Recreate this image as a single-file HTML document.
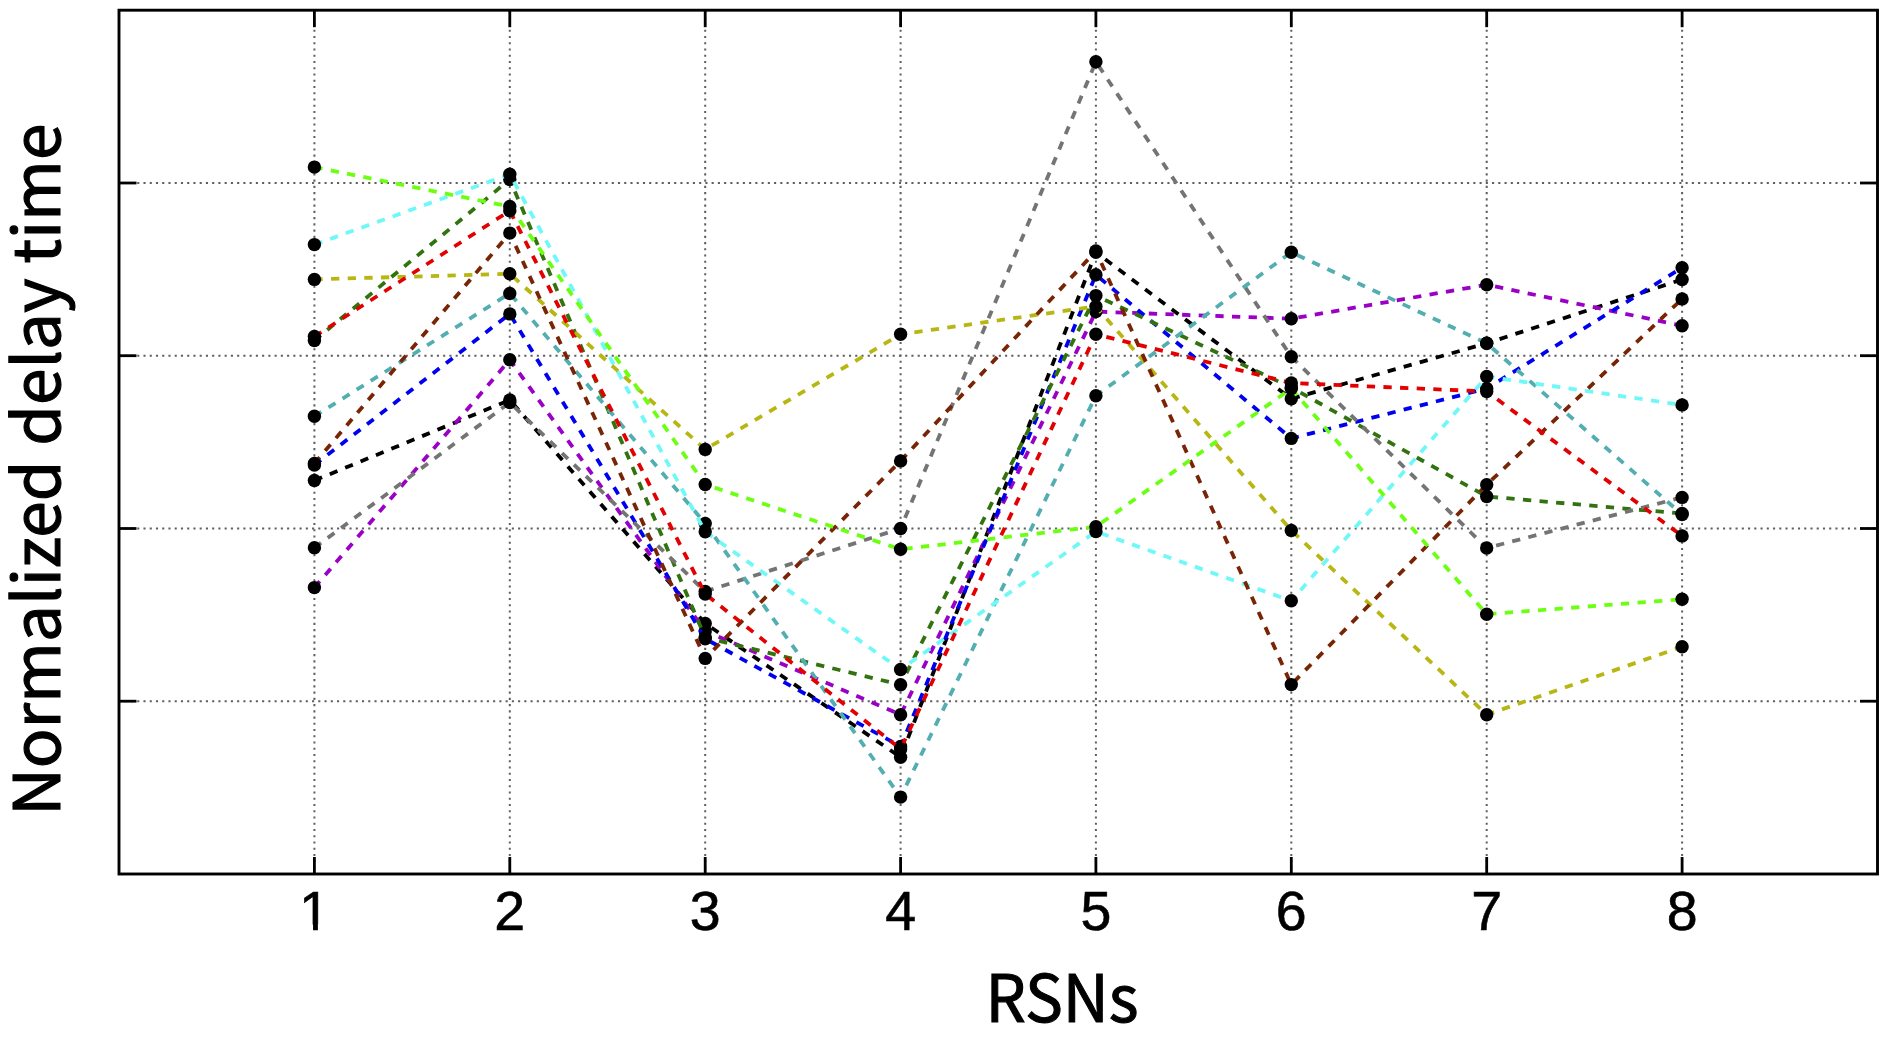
<!DOCTYPE html><html><head><meta charset="utf-8"><style>html,body{margin:0;padding:0;background:#fff;}svg{display:block;}</style></head><body>
<svg width="1890" height="1037" viewBox="0 0 1890 1037">
<defs><clipPath id="c1" clipPathUnits="userSpaceOnUse"><rect x="290" y="870" width="50" height="54.6"/><rect x="313.05" y="920" width="4.85" height="15"/></clipPath></defs>
<rect width="1890" height="1037" fill="#fff"/>
<g stroke="#5f5f5f" stroke-width="2" stroke-dasharray="2.1 4.1434" fill="none"><line x1="314.4" y1="874.0" x2="314.4" y2="10.2" stroke-dashoffset="0.71"/><line x1="509.8" y1="874.0" x2="509.8" y2="10.2" stroke-dashoffset="0.71"/><line x1="705.2" y1="874.0" x2="705.2" y2="10.2" stroke-dashoffset="0.71"/><line x1="900.6" y1="874.0" x2="900.6" y2="10.2" stroke-dashoffset="0.71"/><line x1="1095.9" y1="874.0" x2="1095.9" y2="10.2" stroke-dashoffset="0.71"/><line x1="1291.3" y1="874.0" x2="1291.3" y2="10.2" stroke-dashoffset="0.71"/><line x1="1486.7" y1="874.0" x2="1486.7" y2="10.2" stroke-dashoffset="0.71"/><line x1="1682.1" y1="874.0" x2="1682.1" y2="10.2" stroke-dashoffset="0.71"/><line x1="119.0" y1="701.2" x2="1877.5" y2="701.2" stroke-dashoffset="0.51"/><line x1="119.0" y1="528.5" x2="1877.5" y2="528.5" stroke-dashoffset="0.51"/><line x1="119.0" y1="355.7" x2="1877.5" y2="355.7" stroke-dashoffset="0.51"/><line x1="119.0" y1="183.0" x2="1877.5" y2="183.0" stroke-dashoffset="0.51"/></g>
<g stroke="#000" stroke-width="2.8" fill="none"><line x1="314.4" y1="10.2" x2="314.4" y2="27.2"/><line x1="314.4" y1="874.0" x2="314.4" y2="857.0"/><line x1="509.8" y1="10.2" x2="509.8" y2="27.2"/><line x1="509.8" y1="874.0" x2="509.8" y2="857.0"/><line x1="705.2" y1="10.2" x2="705.2" y2="27.2"/><line x1="705.2" y1="874.0" x2="705.2" y2="857.0"/><line x1="900.6" y1="10.2" x2="900.6" y2="27.2"/><line x1="900.6" y1="874.0" x2="900.6" y2="857.0"/><line x1="1095.9" y1="10.2" x2="1095.9" y2="27.2"/><line x1="1095.9" y1="874.0" x2="1095.9" y2="857.0"/><line x1="1291.3" y1="10.2" x2="1291.3" y2="27.2"/><line x1="1291.3" y1="874.0" x2="1291.3" y2="857.0"/><line x1="1486.7" y1="10.2" x2="1486.7" y2="27.2"/><line x1="1486.7" y1="874.0" x2="1486.7" y2="857.0"/><line x1="1682.1" y1="10.2" x2="1682.1" y2="27.2"/><line x1="1682.1" y1="874.0" x2="1682.1" y2="857.0"/><line x1="119.0" y1="701.2" x2="136.5" y2="701.2"/><line x1="1877.5" y1="701.2" x2="1860.0" y2="701.2"/><line x1="119.0" y1="528.5" x2="136.5" y2="528.5"/><line x1="1877.5" y1="528.5" x2="1860.0" y2="528.5"/><line x1="119.0" y1="355.7" x2="136.5" y2="355.7"/><line x1="1877.5" y1="355.7" x2="1860.0" y2="355.7"/><line x1="119.0" y1="183.0" x2="136.5" y2="183.0"/><line x1="1877.5" y1="183.0" x2="1860.0" y2="183.0"/></g>
<polyline points="314.4,480.5 509.8,400.0 705.2,623.4 900.6,757.2 1095.9,252.3 1291.3,398.8 1486.7,343.3 1682.1,279.5" fill="none" stroke="#000000" stroke-width="3.8" stroke-dasharray="8.3 8.34"/>
<g fill="#000"><circle cx="314.4" cy="480.5" r="6.7"/><circle cx="509.8" cy="400.0" r="6.7"/><circle cx="705.2" cy="623.4" r="6.7"/><circle cx="900.6" cy="757.2" r="6.7"/><circle cx="1095.9" cy="252.3" r="6.7"/><circle cx="1291.3" cy="398.8" r="6.7"/><circle cx="1486.7" cy="343.3" r="6.7"/><circle cx="1682.1" cy="279.5" r="6.7"/></g>
<polyline points="314.4,587.6 509.8,359.8 705.2,631.0 900.6,714.7 1095.9,311.6 1291.3,318.7 1486.7,284.7 1682.1,325.7" fill="none" stroke="#9a00c6" stroke-width="3.8" stroke-dasharray="8.3 8.34"/>
<g fill="#000"><circle cx="314.4" cy="587.6" r="6.7"/><circle cx="509.8" cy="359.8" r="6.7"/><circle cx="705.2" cy="631.0" r="6.7"/><circle cx="900.6" cy="714.7" r="6.7"/><circle cx="1095.9" cy="311.6" r="6.7"/><circle cx="1291.3" cy="318.7" r="6.7"/><circle cx="1486.7" cy="284.7" r="6.7"/><circle cx="1682.1" cy="325.7" r="6.7"/></g>
<polyline points="314.4,465.0 509.8,313.9 705.2,638.7 900.6,746.5 1095.9,274.8 1291.3,438.4 1486.7,388.5 1682.1,267.7" fill="none" stroke="#0000f0" stroke-width="3.8" stroke-dasharray="8.3 8.34"/>
<g fill="#000"><circle cx="314.4" cy="465.0" r="6.7"/><circle cx="509.8" cy="313.9" r="6.7"/><circle cx="705.2" cy="638.7" r="6.7"/><circle cx="900.6" cy="746.5" r="6.7"/><circle cx="1095.9" cy="274.8" r="6.7"/><circle cx="1291.3" cy="438.4" r="6.7"/><circle cx="1486.7" cy="388.5" r="6.7"/><circle cx="1682.1" cy="267.7" r="6.7"/></g>
<polyline points="314.4,340.5 509.8,179.5 705.2,637.5 900.6,684.8 1095.9,295.6 1291.3,387.5 1486.7,496.5 1682.1,513.5" fill="none" stroke="#32730f" stroke-width="3.8" stroke-dasharray="8.3 8.34"/>
<g fill="#000"><circle cx="314.4" cy="340.5" r="6.7"/><circle cx="509.8" cy="179.5" r="6.7"/><circle cx="705.2" cy="637.5" r="6.7"/><circle cx="900.6" cy="684.8" r="6.7"/><circle cx="1095.9" cy="295.6" r="6.7"/><circle cx="1291.3" cy="387.5" r="6.7"/><circle cx="1486.7" cy="496.5" r="6.7"/><circle cx="1682.1" cy="513.5" r="6.7"/></g>
<polyline points="314.4,547.8 509.8,402.5 705.2,591.5 900.6,528.5 1095.9,61.7 1291.3,356.8 1486.7,548.0 1682.1,497.4" fill="none" stroke="#747474" stroke-width="3.8" stroke-dasharray="8.3 8.34"/>
<g fill="#000"><circle cx="314.4" cy="547.8" r="6.7"/><circle cx="509.8" cy="402.5" r="6.7"/><circle cx="705.2" cy="591.5" r="6.7"/><circle cx="900.6" cy="528.5" r="6.7"/><circle cx="1095.9" cy="61.7" r="6.7"/><circle cx="1291.3" cy="356.8" r="6.7"/><circle cx="1486.7" cy="548.0" r="6.7"/><circle cx="1682.1" cy="497.4" r="6.7"/></g>
<polyline points="314.4,416.3 509.8,293.4 705.2,523.4 900.6,797.1 1095.9,395.8 1291.3,252.2 1486.7,343.3 1682.1,514.5" fill="none" stroke="#52aeb0" stroke-width="3.8" stroke-dasharray="8.3 8.34"/>
<g fill="#000"><circle cx="314.4" cy="416.3" r="6.7"/><circle cx="509.8" cy="293.4" r="6.7"/><circle cx="705.2" cy="523.4" r="6.7"/><circle cx="900.6" cy="797.1" r="6.7"/><circle cx="1095.9" cy="395.8" r="6.7"/><circle cx="1291.3" cy="252.2" r="6.7"/><circle cx="1486.7" cy="343.3" r="6.7"/><circle cx="1682.1" cy="514.5" r="6.7"/></g>
<polyline points="314.4,244.6 509.8,174.3 705.2,531.7 900.6,669.5 1095.9,531.6 1291.3,600.8 1486.7,376.5 1682.1,404.9" fill="none" stroke="#70f8f8" stroke-width="3.8" stroke-dasharray="8.3 8.34"/>
<g fill="#000"><circle cx="314.4" cy="244.6" r="6.7"/><circle cx="509.8" cy="174.3" r="6.7"/><circle cx="705.2" cy="531.7" r="6.7"/><circle cx="900.6" cy="669.5" r="6.7"/><circle cx="1095.9" cy="531.6" r="6.7"/><circle cx="1291.3" cy="600.8" r="6.7"/><circle cx="1486.7" cy="376.5" r="6.7"/><circle cx="1682.1" cy="404.9" r="6.7"/></g>
<polyline points="314.4,279.4 509.8,273.8 705.2,449.4 900.6,334.3 1095.9,306.4 1291.3,530.4 1486.7,714.7 1682.1,646.7" fill="none" stroke="#b8b612" stroke-width="3.8" stroke-dasharray="8.3 8.34"/>
<g fill="#000"><circle cx="314.4" cy="279.4" r="6.7"/><circle cx="509.8" cy="273.8" r="6.7"/><circle cx="705.2" cy="449.4" r="6.7"/><circle cx="900.6" cy="334.3" r="6.7"/><circle cx="1095.9" cy="306.4" r="6.7"/><circle cx="1291.3" cy="530.4" r="6.7"/><circle cx="1486.7" cy="714.7" r="6.7"/><circle cx="1682.1" cy="646.7" r="6.7"/></g>
<polyline points="314.4,463.5 509.8,233.1 705.2,658.4 900.6,460.9 1095.9,251.0 1291.3,684.6 1486.7,484.7 1682.1,298.9" fill="none" stroke="#782405" stroke-width="3.8" stroke-dasharray="8.3 8.34"/>
<g fill="#000"><circle cx="314.4" cy="463.5" r="6.7"/><circle cx="509.8" cy="233.1" r="6.7"/><circle cx="705.2" cy="658.4" r="6.7"/><circle cx="900.6" cy="460.9" r="6.7"/><circle cx="1095.9" cy="251.0" r="6.7"/><circle cx="1291.3" cy="684.6" r="6.7"/><circle cx="1486.7" cy="484.7" r="6.7"/><circle cx="1682.1" cy="298.9" r="6.7"/></g>
<polyline points="314.4,167.1 509.8,206.5 705.2,484.5 900.6,549.3 1095.9,526.7 1291.3,388.5 1486.7,614.2 1682.1,599.3" fill="none" stroke="#6cff12" stroke-width="3.8" stroke-dasharray="8.3 8.34"/>
<g fill="#000"><circle cx="314.4" cy="167.1" r="6.7"/><circle cx="509.8" cy="206.5" r="6.7"/><circle cx="705.2" cy="484.5" r="6.7"/><circle cx="900.6" cy="549.3" r="6.7"/><circle cx="1095.9" cy="526.7" r="6.7"/><circle cx="1291.3" cy="388.5" r="6.7"/><circle cx="1486.7" cy="614.2" r="6.7"/><circle cx="1682.1" cy="599.3" r="6.7"/></g>
<polyline points="314.4,336.5 509.8,210.8 705.2,594.0 900.6,749.0 1095.9,334.2 1291.3,383.0 1486.7,391.5 1682.1,535.9" fill="none" stroke="#e20000" stroke-width="3.8" stroke-dasharray="8.3 8.34"/>
<g fill="#000"><circle cx="314.4" cy="336.5" r="6.7"/><circle cx="509.8" cy="210.8" r="6.7"/><circle cx="705.2" cy="594.0" r="6.7"/><circle cx="900.6" cy="749.0" r="6.7"/><circle cx="1095.9" cy="334.2" r="6.7"/><circle cx="1291.3" cy="383.0" r="6.7"/><circle cx="1486.7" cy="391.5" r="6.7"/><circle cx="1682.1" cy="535.9" r="6.7"/></g>
<rect x="119.0" y="10.2" width="1758.5" height="863.8" fill="none" stroke="#000" stroke-width="2.9"/>
<g font-family="Liberation Sans, Arial, sans-serif" font-size="55.5" fill="#000" stroke="#000" stroke-width="0.6"><text x="314.4" y="930.4" text-anchor="middle" clip-path="url(#c1)">1</text><text x="509.8" y="930.4" text-anchor="middle">2</text><text x="705.2" y="930.4" text-anchor="middle">3</text><text x="900.6" y="930.4" text-anchor="middle">4</text><text x="1095.9" y="930.4" text-anchor="middle">5</text><text x="1291.3" y="930.4" text-anchor="middle">6</text><text x="1486.7" y="930.4" text-anchor="middle">7</text><text x="1682.1" y="930.4" text-anchor="middle">8</text></g>
<text transform="translate(1062,1022.4) scale(0.975,1)" text-anchor="middle" font-family="Noto Sans CJK SC, sans-serif" font-size="65.2" fill="#000" stroke="#000" stroke-width="1.1">RSNs</text>
<text transform="translate(59.7,469.75) rotate(-90) scale(1.02,1)" text-anchor="middle" font-family="Noto Sans CJK SC, sans-serif" font-size="64.5" fill="#000" stroke="#000" stroke-width="1.1">Normalized delay time</text>
</svg></body></html>
